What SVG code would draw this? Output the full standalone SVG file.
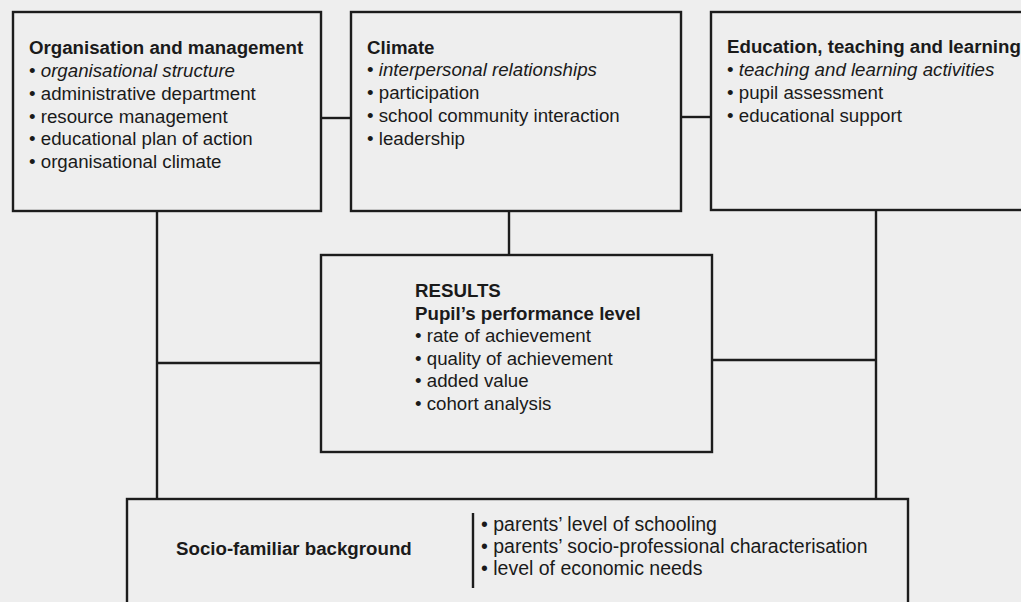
<svg xmlns="http://www.w3.org/2000/svg" width="1021" height="602" viewBox="0 0 1021 602">
  <style>
    .box { fill: none; stroke: #1c1c1c; stroke-width: 2.4; }
    .wire { fill: none; stroke: #1c1c1c; stroke-width: 2.4; }
    text { font-family: "Liberation Sans", Arial, sans-serif; font-size: 18.7px; fill: #1a1a1a; }
    .head { font-weight: bold; }
    .it { font-style: italic; }
    .side { font-size: 19.5px; }
  </style>
  <rect x="0" y="0" width="1021" height="602" fill="#eeeeee"/>

  <g id="connectors">
    <line class="wire" x1="321" y1="118" x2="351" y2="118"/>
    <line class="wire" x1="681" y1="117" x2="711" y2="117"/>
    <line class="wire" x1="157" y1="211" x2="157" y2="499"/>
    <line class="wire" x1="157" y1="363" x2="321" y2="363"/>
    <line class="wire" x1="509" y1="211" x2="509" y2="255"/>
    <line class="wire" x1="712" y1="360" x2="876" y2="360"/>
    <line class="wire" x1="876" y1="210" x2="876" y2="499"/>
  </g>

  <g id="organisation">
    <rect class="box" x="13" y="12" width="308" height="199"/>
    <text x="29" y="54" class="head">Organisation and management</text>
    <text x="29" y="77">• <tspan class="it">organisational structure</tspan></text>
    <text x="29" y="100">• administrative department</text>
    <text x="29" y="122.5">• resource management</text>
    <text x="29" y="145">• educational plan of action</text>
    <text x="29" y="168">• organisational climate</text>
  </g>

  <g id="climate">
    <rect class="box" x="351" y="12" width="330" height="199"/>
    <text x="367" y="54" class="head">Climate</text>
    <text x="367" y="76">• <tspan class="it">interpersonal relationships</tspan></text>
    <text x="367" y="99">• participation</text>
    <text x="367" y="122">• school community interaction</text>
    <text x="367" y="145">• leadership</text>
  </g>

  <g id="education">
    <rect class="box" x="711" y="12" width="320" height="198"/>
    <text x="727" y="53" class="head">Education, teaching and learning</text>
    <text x="727" y="76">• <tspan class="it">teaching and learning activities</tspan></text>
    <text x="727" y="99">• pupil assessment</text>
    <text x="727" y="122">• educational support</text>
  </g>

  <g id="results">
    <rect class="box" x="321" y="255" width="391" height="197"/>
    <text x="415" y="297" class="head">RESULTS</text>
    <text x="415" y="320" class="head">Pupil’s performance level</text>
    <text x="415" y="342">• rate of achievement</text>
    <text x="415" y="365">• quality of achievement</text>
    <text x="415" y="387">• added value</text>
    <text x="415" y="410">• cohort analysis</text>
  </g>

  <g id="background">
    <rect class="box" x="127" y="499" width="781" height="110"/>
    <line class="wire" x1="473" y1="513" x2="473" y2="588"/>
    <text x="176" y="555" class="head">Socio-familiar background</text>
    <text x="481" y="531" class="side">• parents’ level of schooling</text>
    <text x="481" y="553" class="side">• parents’ socio-professional characterisation</text>
    <text x="481" y="575" class="side">• level of economic needs</text>
  </g>
</svg>
